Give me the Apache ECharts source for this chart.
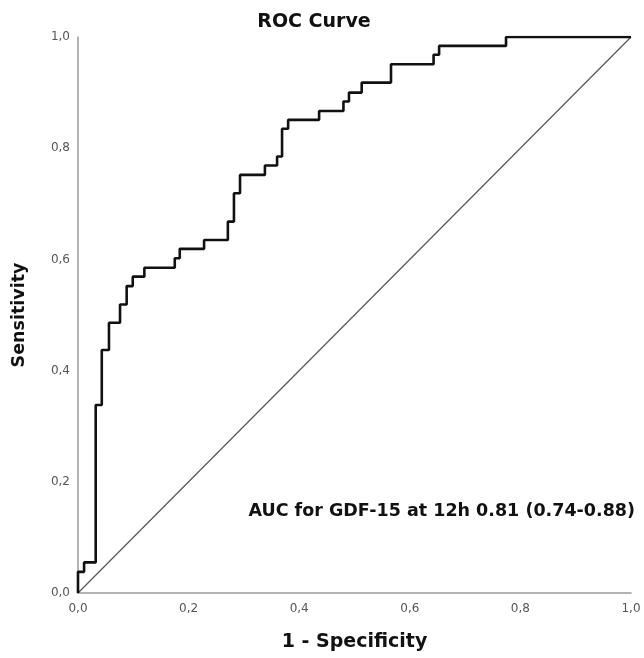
<!DOCTYPE html>
<html>
<head>
<meta charset="utf-8">
<script src="https://cdn.jsdelivr.net/npm/echarts@6/dist/echarts.min.js"></script>
<style>
  html, body { margin: 0; padding: 0; background: #fff; }
  #chart { width: 644px; height: 658px; }
</style>
</head>
<body>
<div id="chart"></div>
<script>
// ROC curve vertices: each point is where a vertical rise ends
const fpr = [0, 0, 0.011, 0.032, 0.043, 0.056, 0.076, 0.088, 0.099, 0.120, 0.175, 0.184,
             0.228, 0.271, 0.282, 0.293, 0.338, 0.360, 0.369, 0.380, 0.436, 0.480, 0.490,
             0.513, 0.566, 0.643, 0.653, 0.774, 1.0];
const tpr = [0, 0.038, 0.055, 0.338, 0.437, 0.486, 0.519, 0.552, 0.569, 0.585, 0.602, 0.619,
             0.635, 0.668, 0.719, 0.752, 0.769, 0.785, 0.835, 0.851, 0.867, 0.884, 0.900,
             0.918, 0.951, 0.968, 0.984, 1.0, 1.0];
// reference (chance) line
const refX = [0, 1];
const refY = [0, 1];
const tickLabels = ['0,0', '0,2', '0,4', '0,6', '0,8', '1,0'];
const titleText = 'ROC Curve';
const xName = '1 - Specificity';
const yName = 'Sensitivity';
const aucText = 'AUC for GDF-15 at 12h 0.81 (0.74-0.88)';

const chart = echarts.init(document.getElementById('chart'), null, { renderer: 'canvas' });
const fontFam = '"DejaVu Sans", "Noto Sans", sans-serif';
const labelFmt = v => tickLabels[Math.round(v / 0.2)] ?? '';

const axisCommon = {
  type: 'value', min: 0, max: 1, interval: 0.2,
  axisLine: { show: true, onZero: false, lineStyle: { color: '#9a9a9a', width: 1.5 } },
  axisTick: { show: false },
  splitLine: { show: false },
  axisLabel: { formatter: labelFmt, color: '#555', fontSize: 12, fontFamily: fontFam },
  nameLocation: 'middle',
  nameTextStyle: { color: '#111', fontSize: 17, fontWeight: 'bold', fontFamily: fontFam }
};

chart.setOption({
  animation: false,
  backgroundColor: '#fff',
  title: {
    text: titleText, left: 309, top: 8, textAlign: 'center',
    textStyle: { color: '#111', fontSize: 19, fontWeight: 'bold', fontFamily: fontFam }
  },
  grid: { left: 78, right: 13, top: 37, bottom: 65 },
  xAxis: Object.assign({}, axisCommon, {
    name: xName, nameGap: 40,
    nameTextStyle: Object.assign({}, axisCommon.nameTextStyle, { fontSize: 19 }),
    axisLabel: Object.assign({}, axisCommon.axisLabel, { margin: 10 })
  }),
  yAxis: Object.assign({}, axisCommon, {
    name: yName, nameGap: 50,
    nameTextStyle: Object.assign({}, axisCommon.nameTextStyle, { fontSize: 17.5 }),
    axisLabel: Object.assign({}, axisCommon.axisLabel, { margin: 8 })
  }),
  graphic: [{
    type: 'text', right: 9, top: 502,
    style: { text: aucText, fill: '#111', font: 'bold 17.5px ' + fontFam }
  }],
  series: [
    {
      type: 'line', data: refX.map((x, i) => [x, refY[i]]),
      symbol: 'none', silent: true,
      lineStyle: { color: '#555', width: 1.2 }
    },
    {
      type: 'line', step: 'end', data: fpr.map((x, i) => [x, tpr[i]]),
      symbol: 'none', silent: true,
      lineStyle: { color: '#111', width: 2.6 }
    }
  ]
});
</script>
</body>
</html>
